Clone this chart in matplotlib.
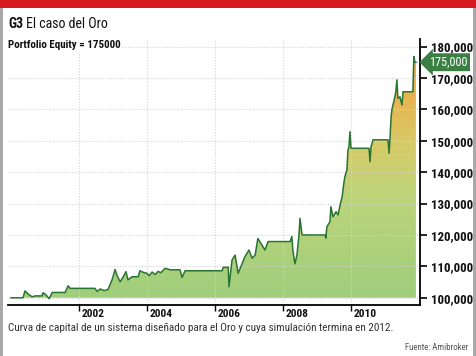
import numpy as np
import matplotlib
matplotlib.use("Agg")
import matplotlib.pyplot as plt
from matplotlib.colors import LinearSegmentedColormap
import matplotlib.transforms as mtransforms

plt.rcParams['font.family'] = ['Roboto Condensed', 'Roboto', 'DejaVu Sans']

# equity curve (decimal year, equity)
years = [2000.00, 2000.35, 2000.41, 2000.50, 2000.62, 2000.71, 2000.91, 2000.94, 2001.03, 2001.12,
         2001.21, 2001.59, 2001.68, 2001.74, 2002.47, 2002.53, 2002.62, 2002.74, 2002.85, 2002.97,
         2003.06, 2003.12, 2003.21, 2003.29, 2003.38, 2003.44, 2003.56, 2003.74, 2003.79, 2003.91,
         2004.00, 2004.06, 2004.15, 2004.24, 2004.32, 2004.41, 2004.53, 2004.68, 2004.97, 2005.03,
         2005.12, 2006.21, 2006.24, 2006.39, 2006.41, 2006.50, 2006.59, 2006.68, 2006.76, 2006.88,
         2007.00, 2007.09, 2007.18, 2007.26, 2007.38, 2007.47, 2007.56, 2008.21, 2008.26, 2008.29,
         2008.35, 2008.41, 2008.47, 2008.50, 2008.56, 2009.24, 2009.26, 2009.29, 2009.38, 2009.41,
         2009.47, 2009.56, 2009.62, 2009.68, 2009.74, 2009.79, 2009.82, 2009.88, 2009.91, 2009.94,
         2009.97, 2010.00, 2010.53, 2010.56, 2010.59, 2010.65, 2011.09, 2011.12, 2011.15, 2011.18,
         2011.21, 2011.26, 2011.32, 2011.35, 2011.38, 2011.44, 2011.50, 2011.53, 2011.82, 2011.85,
         2011.88, 2011.91]
equity = [100000, 100000, 102200, 101200, 100300, 100600, 100600, 101600, 100900, 99700,
          101700, 101700, 103800, 103000, 103000, 102000, 102800, 102300, 102600, 105700,
          109000, 107000, 105100, 106500, 108300, 105700, 106700, 106700, 108600, 108000,
          107800, 107000, 108200, 107400, 108400, 108000, 109400, 108900, 108900, 106500,
          108600, 108600, 109700, 109700, 103500, 112000, 113600, 107800, 109900, 113100,
          115200, 112600, 113600, 118900, 116800, 115200, 117900, 117900, 119500, 115200,
          110800, 113600, 120000, 125300, 120000, 120000, 119000, 122600, 124200, 129000,
          125800, 127400, 126400, 129600, 132200, 136500, 138600, 140700, 147000, 148100,
          152900, 147600, 147600, 143300, 148100, 150300, 150300, 146000, 151300, 157700,
          160300, 162500, 165600, 169400, 163500, 164000, 161400, 165600, 165600, 176800,
          175000, 175000]

xticks = [2002, 2004, 2006, 2008, 2010]
yticks = [100000, 110000, 120000, 130000, 140000, 150000, 160000, 170000, 180000]
final_value = 175000

fig = plt.figure(figsize=(4.76, 3.56), dpi=100)
fig.patch.set_facecolor("white")

# frame: red band on top, grey edges left/right
fig.add_artist(plt.Rectangle((0, 1 - 8/356), 1, 8/356, transform=fig.transFigure,
                             color="#d7191f", lw=0))
fig.add_artist(plt.Rectangle((0, 0), 3/476, 1 - 8/356, transform=fig.transFigure,
                             color="#a8a8a8", lw=0))
fig.add_artist(plt.Rectangle((1 - 3/476, 0), 3/476, 1 - 8/356, transform=fig.transFigure,
                             color="#a8a8a8", lw=0))

ax = fig.add_axes([8/476, 1 - 305/356, 412/476, 266/356])
ax.set_xlim(1999.91, 2012.03)
ax.set_ylim(97700, 182400)

x = np.array(years)
y = np.array(equity)

# gradient fill clipped to the area under the curve
poly = ax.fill_between(x, y, 100000, color="none", lw=0)
cmap = LinearSegmentedColormap.from_list("oro", [
    (0.0, "#a0ce7c"), (0.4, "#bcd47a"), (0.62, "#d8ca68"),
    (0.8, "#e8b350"), (1.0, "#eea23c")])
grad = np.linspace(0, 1, 256).reshape(-1, 1)
img = ax.imshow(grad, cmap=cmap, origin="lower", aspect="auto",
                extent=(x[0], x[-1], 100000, 180000), zorder=1)
img.set_clip_path(poly.get_paths()[0], transform=ax.transData)

ax.plot(x, y, color="#2a7433", lw=1.1, zorder=3)
ax.plot([x[-1], 2012.03], [final_value, final_value], color="#999999", lw=0.8, ls=":", zorder=3)

ax.set_yticks(yticks)
ax.set_yticklabels([f"{v:,}" for v in yticks])
ax.set_xticks(xticks)
ax.set_xticklabels([str(t) for t in xticks])
ax.grid(True, color="#d4d4d4", ls=(0, (1, 1.5)), lw=0.8, zorder=2)
ax.set_axisbelow(False)

ax.yaxis.tick_right()
for s in ["left", "top"]:
    ax.spines[s].set_visible(False)
for s in ["right", "bottom"]:
    ax.spines[s].set_linewidth(1.3)
    ax.spines[s].set_zorder(4)
ax.tick_params(axis="y", direction="out", length=5, width=1.2, pad=3,
               labelsize=9.3, labelcolor="#111111")
ax.tick_params(axis="x", direction="out", length=4, width=1.0, pad=-1,
               labelsize=8.2, labelcolor="#111111")
for lab in ax.get_yticklabels():
    lab.set_fontweight("bold")
shift = mtransforms.ScaledTranslation(3/100, 0, fig.dpi_scale_trans)
for lab in ax.get_xticklabels():
    lab.set_fontweight("bold")
    lab.set_ha("left")
    lab.set_transform(lab.get_transform() + shift)

# value tag on the right axis
tag = mtransforms.blended_transform_factory(ax.transAxes, ax.transData)
ax.text(1.022, final_value, f"{final_value:,}", transform=tag, ha="left", va="center",
        fontsize=8.8, color="white", zorder=6,
        bbox=dict(boxstyle="larrow,pad=0.2", fc="#3b7f45", ec="none"))

g3 = fig.text(8/476, 1 - 24/356, "G3", fontsize=10, fontweight="bold", va="center",
              color="#111111")
fig.canvas.draw()
g3_right = g3.get_window_extent().x1
fig.text((g3_right + 3)/476, 1 - 24/356, "El caso del Oro", fontsize=10, va="center",
         color="#111111")
fig.text(8/476, 1 - 45/356, "Portfolio Equity = 175000", fontsize=7.9, fontweight="bold",
         va="center", color="#111111",
         bbox=dict(boxstyle="square,pad=0.15", fc="white", ec="none"))
fig.text(8/476, 1 - 328/356,
         "Curva de capital de un sistema diseñado para el Oro y cuya simulación termina en 2012.",
         fontsize=8.0, va="center", color="#333333")
fig.text(468/476, 1 - 347/356, "Fuente: Amibroker", fontsize=6.3, ha="right", va="center",
         color="#555555")

fig.savefig("out.png", dpi=100)
